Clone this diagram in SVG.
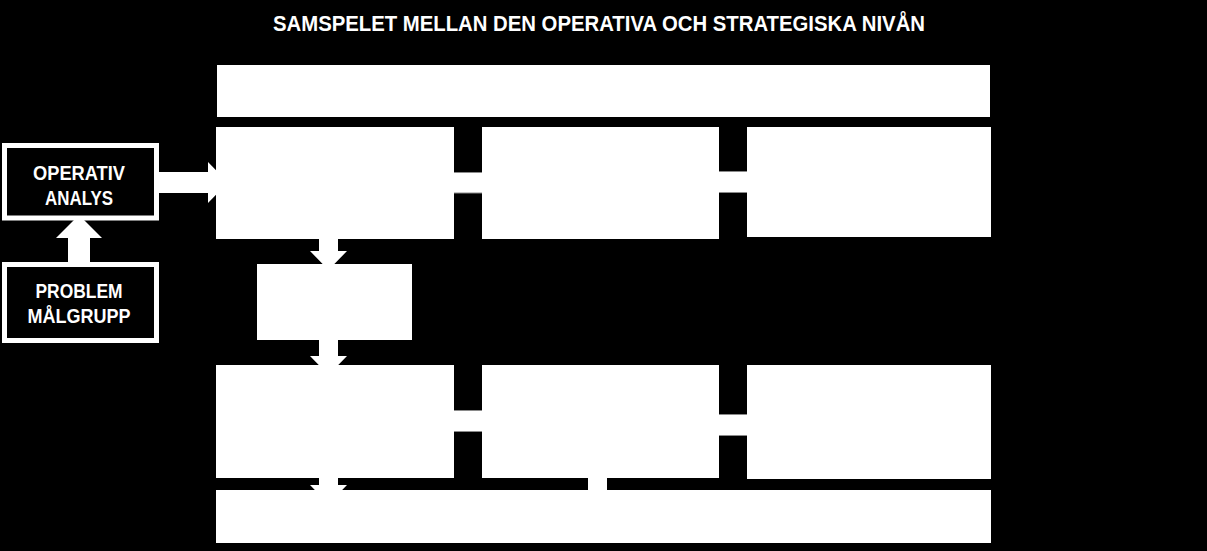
<svg xmlns="http://www.w3.org/2000/svg" width="1207" height="551" viewBox="0 0 1207 551">
<style>
.bg{fill:#000}
.box{fill:#fff}
.obox{fill:#000;stroke:#fff;stroke-width:5}
.bar{fill:#fff;stroke:#8a8a8a;stroke-width:1}
.arr{fill:#fff}
.t{font-family:"Liberation Sans",Arial,sans-serif;font-weight:bold;fill:#fff;text-anchor:middle}
</style>
<rect class="bg" x="0" y="0" width="1207" height="551"/>
<text class="t" x="599" y="31" font-size="22" textLength="652" lengthAdjust="spacingAndGlyphs">SAMSPELET MELLAN DEN OPERATIVA OCH STRATEGISKA NIVÅN</text>
<g id="connectors">
<rect class="bar" x="450" y="172.5" width="35" height="20.5"/>
<rect class="bar" x="715" y="171.5" width="35" height="21"/>
<rect class="bar" x="450" y="410.5" width="35" height="21"/>
<rect class="bar" x="715" y="414.5" width="35" height="21"/>
<rect class="arr" x="588" y="475" width="19" height="17"/>
<polygon class="arr" points="152,172 208,172 208,162 228,182.5 208,203 208,193 152,193"/>
<polygon class="arr" points="68,265 68,238 56,238 79,215 102,238 90,238 90,265"/>
<polygon class="arr" points="319,236 338,236 338,251 347,251 328.5,270 310,251 319,251"/>
<polygon class="arr" points="319,337 338,337 338,356 347,356 328.5,375 310,356 319,356"/>
<polygon class="arr" points="319,475 338,475 338,485 347,485 328.5,504 310,485 319,485"/>
</g>
<g id="top-bar"><rect class="box" x="217" y="65" width="773" height="52"/></g>
<g id="box-a"><rect class="box" x="216" y="127" width="238" height="112"/></g>
<g id="box-b"><rect class="box" x="482" y="127" width="237" height="112"/></g>
<g id="box-c"><rect class="box" x="747" y="127" width="244" height="110"/></g>
<g id="box-mid"><rect class="box" x="257" y="264" width="155" height="76"/></g>
<g id="box-d"><rect class="box" x="216" y="365" width="238" height="113"/></g>
<g id="box-e"><rect class="box" x="482" y="365" width="237" height="113"/></g>
<g id="box-f"><rect class="box" x="747" y="365" width="244" height="114"/></g>
<g id="bottom-bar"><rect class="box" x="216" y="490" width="775" height="53"/></g>
<g id="operativ">
<rect class="obox" x="4.5" y="145.5" width="152" height="72.5"/>
<text class="t" x="79" y="180" font-size="20" textLength="92" lengthAdjust="spacingAndGlyphs">OPERATIV</text>
<text class="t" x="79" y="205" font-size="20" textLength="68" lengthAdjust="spacingAndGlyphs">ANALYS</text>
</g>
<g id="problem">
<rect class="obox" x="4.5" y="264.5" width="152" height="76"/>
<text class="t" x="79" y="298" font-size="20" textLength="87" lengthAdjust="spacingAndGlyphs">PROBLEM</text>
<text class="t" x="79" y="323" font-size="20" textLength="103" lengthAdjust="spacingAndGlyphs">MÅLGRUPP</text>
</g>
</svg>
